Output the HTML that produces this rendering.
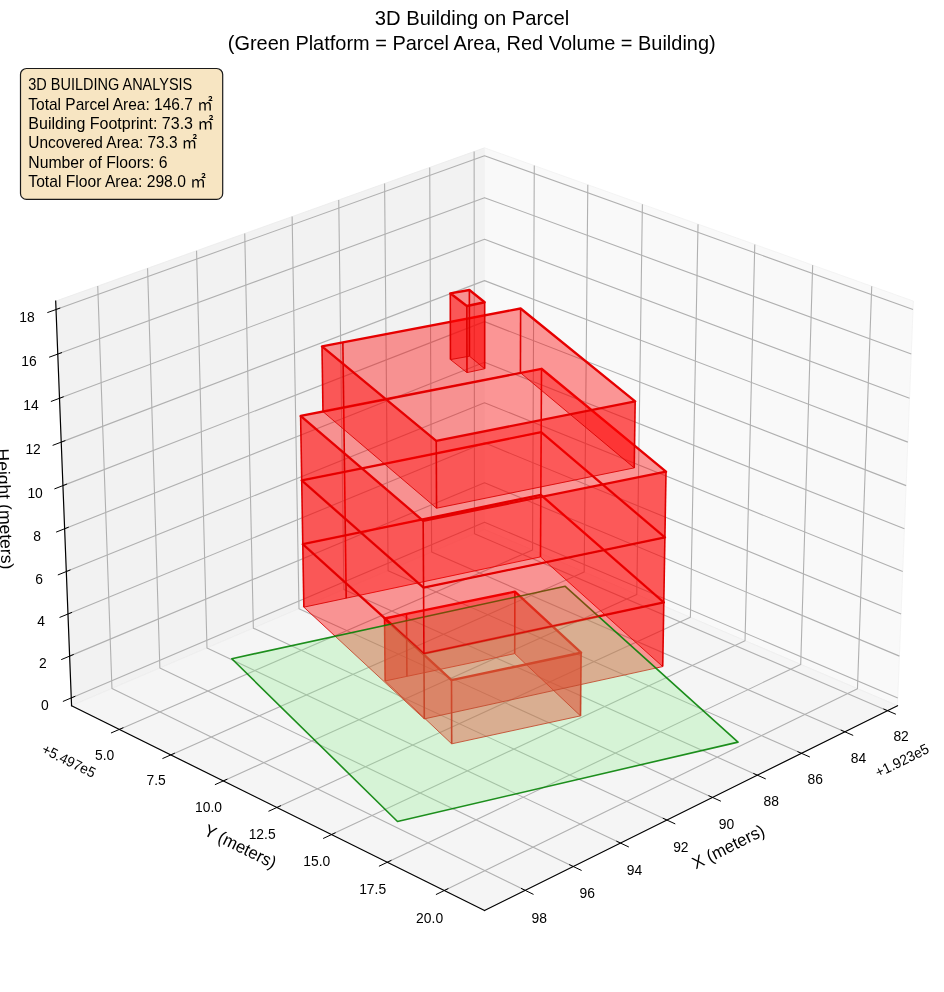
<!DOCTYPE html>
<html lang="en"><head><meta charset="utf-8"><title>3D Building on Parcel</title>
<style>
html,body{margin:0;padding:0;background:#fff;}
body{width:944px;height:992px;overflow:hidden;}
svg{display:block;}
text{white-space:pre;}
</style></head>
<body>
<svg width="944" height="992" viewBox="0 0 944 992">
<rect width="944" height="992" fill="#ffffff"/>
<g id="panes">
<polygon points="71.57,705.72 484.53,529.52 484.53,147.83 55.69,301.11" fill="#f2f2f2" stroke="#ebebeb" stroke-width="0.8"/>
<polygon points="484.53,529.52 897.48,705.72 913.37,301.11 484.53,147.83" fill="#f9f9f9" stroke="#f1f1f1" stroke-width="0.8"/>
<polygon points="484.53,529.52 71.57,705.72 484.53,910.43 897.48,705.72" fill="#f5f5f5" stroke="#eeeeee" stroke-width="0.8"/>
</g>
<g id="grid" stroke-linejoin="round">
<polyline points="887.50,710.67 474.49,533.81 474.13,151.54" fill="none" stroke="#b0b0b0" stroke-width="1.1"/>
<polyline points="844.84,731.81 431.63,552.09 429.72,167.42" fill="none" stroke="#b0b0b0" stroke-width="1.1"/>
<polyline points="801.48,753.31 388.10,570.66 384.60,183.54" fill="none" stroke="#b0b0b0" stroke-width="1.1"/>
<polyline points="757.37,775.17 343.89,589.53 338.74,199.94" fill="none" stroke="#b0b0b0" stroke-width="1.1"/>
<polyline points="712.51,797.41 298.98,608.69 292.13,216.60" fill="none" stroke="#b0b0b0" stroke-width="1.1"/>
<polyline points="666.88,820.03 253.35,628.16 244.74,233.54" fill="none" stroke="#b0b0b0" stroke-width="1.1"/>
<polyline points="620.45,843.05 206.98,647.94 196.56,250.76" fill="none" stroke="#b0b0b0" stroke-width="1.1"/>
<polyline points="573.20,866.47 159.86,668.05 147.56,268.27" fill="none" stroke="#b0b0b0" stroke-width="1.1"/>
<polyline points="525.12,890.31 111.96,688.48 97.73,286.09" fill="none" stroke="#b0b0b0" stroke-width="1.1"/>
<polyline points="119.35,729.40 532.55,550.01 534.28,165.61" fill="none" stroke="#b0b0b0" stroke-width="1.1"/>
<polyline points="170.81,754.91 584.19,572.04 587.81,184.74" fill="none" stroke="#b0b0b0" stroke-width="1.1"/>
<polyline points="223.30,780.93 636.80,594.49 642.39,204.25" fill="none" stroke="#b0b0b0" stroke-width="1.1"/>
<polyline points="276.86,807.48 690.40,617.36 698.03,224.14" fill="none" stroke="#b0b0b0" stroke-width="1.1"/>
<polyline points="331.53,834.58 745.03,640.67 754.78,244.43" fill="none" stroke="#b0b0b0" stroke-width="1.1"/>
<polyline points="387.33,862.25 800.71,664.43 812.66,265.12" fill="none" stroke="#b0b0b0" stroke-width="1.1"/>
<polyline points="444.31,890.49 857.47,688.64 871.72,286.23" fill="none" stroke="#b0b0b0" stroke-width="1.1"/>
<polyline points="71.27,697.92 484.53,522.15 897.79,697.92" fill="none" stroke="#b0b0b0" stroke-width="1.1"/>
<polyline points="69.63,656.13 484.53,482.64 899.43,656.13" fill="none" stroke="#b0b0b0" stroke-width="1.1"/>
<polyline points="67.97,614.01 484.53,442.83 901.08,614.01" fill="none" stroke="#b0b0b0" stroke-width="1.1"/>
<polyline points="66.31,571.56 484.53,402.73 902.75,571.56" fill="none" stroke="#b0b0b0" stroke-width="1.1"/>
<polyline points="64.63,528.76 484.53,362.33 904.43,528.76" fill="none" stroke="#b0b0b0" stroke-width="1.1"/>
<polyline points="62.93,485.62 484.53,321.63 906.12,485.62" fill="none" stroke="#b0b0b0" stroke-width="1.1"/>
<polyline points="61.22,442.12 484.53,280.62 907.83,442.12" fill="none" stroke="#b0b0b0" stroke-width="1.1"/>
<polyline points="59.50,398.28 484.53,239.31 909.55,398.28" fill="none" stroke="#b0b0b0" stroke-width="1.1"/>
<polyline points="57.77,354.08 484.53,197.67 911.29,354.08" fill="none" stroke="#b0b0b0" stroke-width="1.1"/>
<polyline points="56.02,309.51 484.53,155.73 913.04,309.51" fill="none" stroke="#b0b0b0" stroke-width="1.1"/>
</g>
<g id="axes">
<polyline points="897.48,705.72 484.53,910.43" fill="none" stroke="#000" stroke-width="1.2" stroke-linecap="square"/>
<polyline points="71.57,705.72 484.53,910.43" fill="none" stroke="#000" stroke-width="1.2" stroke-linecap="square"/>
<polyline points="71.57,705.72 55.69,301.11" fill="none" stroke="#000" stroke-width="1.2" stroke-linecap="square"/>
<polyline points="895.86,714.25 883.41,708.92" fill="none" stroke="#000" stroke-width="1.0"/>
<polyline points="853.21,735.45 840.76,730.03" fill="none" stroke="#000" stroke-width="1.0"/>
<polyline points="809.85,757.01 797.39,751.50" fill="none" stroke="#000" stroke-width="1.0"/>
<polyline points="765.75,778.94 753.28,773.34" fill="none" stroke="#000" stroke-width="1.0"/>
<polyline points="720.90,801.24 708.41,795.54" fill="none" stroke="#000" stroke-width="1.0"/>
<polyline points="675.27,823.93 662.78,818.13" fill="none" stroke="#000" stroke-width="1.0"/>
<polyline points="628.85,847.01 616.35,841.11" fill="none" stroke="#000" stroke-width="1.0"/>
<polyline points="581.61,870.50 569.10,864.50" fill="none" stroke="#000" stroke-width="1.0"/>
<polyline points="533.53,894.41 521.02,888.30" fill="none" stroke="#000" stroke-width="1.0"/>
<polyline points="110.98,733.03 123.44,727.63" fill="none" stroke="#000" stroke-width="1.0"/>
<polyline points="162.43,758.61 174.90,753.10" fill="none" stroke="#000" stroke-width="1.0"/>
<polyline points="214.91,784.71 227.39,779.09" fill="none" stroke="#000" stroke-width="1.0"/>
<polyline points="268.47,811.34 280.96,805.60" fill="none" stroke="#000" stroke-width="1.0"/>
<polyline points="323.13,838.52 335.63,832.66" fill="none" stroke="#000" stroke-width="1.0"/>
<polyline points="378.93,866.27 391.44,860.29" fill="none" stroke="#000" stroke-width="1.0"/>
<polyline points="435.91,894.60 448.42,888.49" fill="none" stroke="#000" stroke-width="1.0"/>
<polyline points="62.90,701.47 75.35,696.18" fill="none" stroke="#000" stroke-width="1.0"/>
<polyline points="61.23,659.64 73.73,654.42" fill="none" stroke="#000" stroke-width="1.0"/>
<polyline points="59.54,617.48 72.09,612.32" fill="none" stroke="#000" stroke-width="1.0"/>
<polyline points="57.83,574.98 70.44,569.89" fill="none" stroke="#000" stroke-width="1.0"/>
<polyline points="56.12,532.13 68.78,527.11" fill="none" stroke="#000" stroke-width="1.0"/>
<polyline points="54.39,488.94 67.10,483.99" fill="none" stroke="#000" stroke-width="1.0"/>
<polyline points="52.64,445.40 65.42,440.53" fill="none" stroke="#000" stroke-width="1.0"/>
<polyline points="50.88,401.50 63.71,396.71" fill="none" stroke="#000" stroke-width="1.0"/>
<polyline points="49.11,357.25 62.00,352.53" fill="none" stroke="#000" stroke-width="1.0"/>
<polyline points="47.32,312.63 60.26,307.99" fill="none" stroke="#000" stroke-width="1.0"/>
</g>
<g id="ticklabels" font-family="'Liberation Sans', 'Noto Sans CJK SC', sans-serif" fill="#000" font-size="14.45" text-anchor="middle">
<text x="901.10" y="741.17" textLength="15.42" lengthAdjust="spacingAndGlyphs">82</text>
<text x="858.52" y="762.52" textLength="15.42" lengthAdjust="spacingAndGlyphs">84</text>
<text x="815.23" y="784.23" textLength="15.42" lengthAdjust="spacingAndGlyphs">86</text>
<text x="771.20" y="806.31" textLength="15.42" lengthAdjust="spacingAndGlyphs">88</text>
<text x="726.41" y="828.76" textLength="15.42" lengthAdjust="spacingAndGlyphs">90</text>
<text x="680.85" y="851.60" textLength="15.42" lengthAdjust="spacingAndGlyphs">92</text>
<text x="634.50" y="874.83" textLength="15.42" lengthAdjust="spacingAndGlyphs">94</text>
<text x="587.33" y="898.46" textLength="15.42" lengthAdjust="spacingAndGlyphs">96</text>
<text x="539.32" y="922.51" textLength="15.42" lengthAdjust="spacingAndGlyphs">98</text>
<text x="104.65" y="759.50" textLength="19.28" lengthAdjust="spacingAndGlyphs">5.0</text>
<text x="156.11" y="785.38" textLength="19.28" lengthAdjust="spacingAndGlyphs">7.5</text>
<text x="208.60" y="811.76" textLength="26.99" lengthAdjust="spacingAndGlyphs">10.0</text>
<text x="262.16" y="838.68" textLength="26.99" lengthAdjust="spacingAndGlyphs">12.5</text>
<text x="316.83" y="866.15" textLength="26.99" lengthAdjust="spacingAndGlyphs">15.0</text>
<text x="372.63" y="894.18" textLength="26.99" lengthAdjust="spacingAndGlyphs">17.5</text>
<text x="429.61" y="922.79" textLength="26.99" lengthAdjust="spacingAndGlyphs">20.0</text>
<text x="44.87" y="709.72" textLength="7.71" lengthAdjust="spacingAndGlyphs">0</text>
<text x="42.94" y="667.99" textLength="7.71" lengthAdjust="spacingAndGlyphs">2</text>
<text x="40.99" y="625.92" textLength="7.71" lengthAdjust="spacingAndGlyphs">4</text>
<text x="39.04" y="583.52" textLength="7.71" lengthAdjust="spacingAndGlyphs">6</text>
<text x="37.07" y="540.78" textLength="7.71" lengthAdjust="spacingAndGlyphs">8</text>
<text x="35.09" y="497.69" textLength="15.42" lengthAdjust="spacingAndGlyphs">10</text>
<text x="33.09" y="454.26" textLength="15.42" lengthAdjust="spacingAndGlyphs">12</text>
<text x="31.08" y="410.47" textLength="15.42" lengthAdjust="spacingAndGlyphs">14</text>
<text x="29.06" y="366.32" textLength="15.42" lengthAdjust="spacingAndGlyphs">16</text>
<text x="27.02" y="321.81" textLength="15.42" lengthAdjust="spacingAndGlyphs">18</text>
<text transform="translate(902.00,760.40) rotate(-26.3)" y="5.1" textLength="57.81" lengthAdjust="spacingAndGlyphs">+1.923e5</text>
<text transform="translate(68.90,760.70) rotate(26.3)" y="5.1" textLength="57.81" lengthAdjust="spacingAndGlyphs">+5.497e5</text>
</g>
<g id="axlabels" font-family="'Liberation Sans', 'Noto Sans CJK SC', sans-serif" fill="#000" font-size="17.3" text-anchor="middle">
<text transform="translate(728.90,848.10) rotate(-26.3)" y="4.4" textLength="78.52" lengthAdjust="spacingAndGlyphs">X (meters)</text>
<text transform="translate(239.70,847.70) rotate(26.3)" y="4.4" textLength="77.82" lengthAdjust="spacingAndGlyphs">Y (meters)</text>
<text transform="translate(3.50,509.00) rotate(87.75)" y="4.4" textLength="120.72" lengthAdjust="spacingAndGlyphs">Height (meters)</text>
</g>
<g id="building">
<g id="floor1">
<polygon points="385.14,680.96 406.93,676.36 406.48,613.97 384.55,618.48" fill="#ff0000" fill-opacity="0.4" stroke="none"/>
<polygon points="406.93,676.36 514.71,653.64 514.88,591.68 406.48,613.97" fill="#ff0000" fill-opacity="0.4" stroke="none"/>
<polygon points="514.71,653.64 580.51,715.88 581.08,652.73 514.88,591.68" fill="#ff0000" fill-opacity="0.4" stroke="none"/>
<polygon points="580.51,715.88 451.70,743.84 451.50,680.17 581.08,652.73" fill="#ff0000" fill-opacity="0.4" stroke="none"/>
<polygon points="451.70,743.84 385.14,680.96 384.55,618.48 451.50,680.17" fill="#ff0000" fill-opacity="0.4" stroke="none"/>
<polygon points="385.14,680.96 406.93,676.36 514.71,653.64 580.51,715.88 451.70,743.84" fill="none" stroke="#d80000" stroke-opacity="0.85" stroke-width="1.0" stroke-linejoin="round"/>
<polyline points="385.14,680.96 384.55,618.48" fill="none" stroke="#de0000" stroke-width="1.6" stroke-opacity="1"/>
<polyline points="406.93,676.36 406.48,613.97" fill="none" stroke="#de0000" stroke-width="1.6" stroke-opacity="1"/>
<polyline points="514.71,653.64 514.88,591.68" fill="none" stroke="#de0000" stroke-width="1.6" stroke-opacity="1"/>
<polyline points="580.51,715.88 581.08,652.73" fill="none" stroke="#de0000" stroke-width="1.6" stroke-opacity="1"/>
<polyline points="451.70,743.84 451.50,680.17" fill="none" stroke="#de0000" stroke-width="1.6" stroke-opacity="1"/>
<polygon points="384.55,618.48 406.48,613.97 514.88,591.68 581.08,652.73 451.50,680.17" fill="none" stroke="#e60000" stroke-width="2.35" stroke-linejoin="round"/>
</g>
<g id="floor2">
<polygon points="303.86,607.17 346.19,598.18 345.37,535.37 302.79,544.17" fill="#ff0000" fill-opacity="0.4" stroke="none"/>
<polygon points="346.19,598.18 540.50,556.90 540.83,494.92 345.37,535.37" fill="#ff0000" fill-opacity="0.4" stroke="none"/>
<polygon points="540.50,556.90 662.72,666.60 663.80,602.42 540.83,494.92" fill="#ff0000" fill-opacity="0.4" stroke="none"/>
<polygon points="662.72,666.60 424.30,718.89 423.93,653.67 663.80,602.42" fill="#ff0000" fill-opacity="0.4" stroke="none"/>
<polygon points="424.30,718.89 303.86,607.17 302.79,544.17 423.93,653.67" fill="#ff0000" fill-opacity="0.4" stroke="none"/>
<polygon points="303.86,607.17 346.19,598.18 540.50,556.90 662.72,666.60 424.30,718.89" fill="none" stroke="#d80000" stroke-opacity="0.85" stroke-width="1.0" stroke-linejoin="round"/>
<polyline points="303.86,607.17 302.79,544.17" fill="none" stroke="#de0000" stroke-width="1.6" stroke-opacity="1"/>
<polyline points="346.19,598.18 345.37,535.37" fill="none" stroke="#de0000" stroke-width="1.6" stroke-opacity="1"/>
<polyline points="540.50,556.90 540.83,494.92" fill="none" stroke="#de0000" stroke-width="1.6" stroke-opacity="1"/>
<polyline points="662.72,666.60 663.80,602.42" fill="none" stroke="#de0000" stroke-width="1.6" stroke-opacity="1"/>
<polyline points="424.30,718.89 423.93,653.67" fill="none" stroke="#de0000" stroke-width="1.6" stroke-opacity="1"/>
<polygon points="302.79,544.17 345.37,535.37 540.83,494.92 663.80,602.42 423.93,653.67" fill="none" stroke="#e60000" stroke-width="2.35" stroke-linejoin="round"/>
</g>
<polygon points="231.79,658.70 565.21,586.30 738.02,742.10 397.50,821.50" fill="#90ee90" fill-opacity="0.3" stroke="#008000" stroke-opacity="0.88" stroke-width="1.6" stroke-linejoin="round"/>
<g id="floor3">
<polygon points="302.79,544.17 345.37,535.37 344.54,471.81 301.71,480.43" fill="#ff0000" fill-opacity="0.4" stroke="none"/>
<polygon points="345.37,535.37 540.83,494.92 541.16,432.22 344.54,471.81" fill="#ff0000" fill-opacity="0.4" stroke="none"/>
<polygon points="540.83,494.92 663.80,602.42 664.90,537.45 541.16,432.22" fill="#ff0000" fill-opacity="0.4" stroke="none"/>
<polygon points="663.80,602.42 423.93,653.67 423.55,587.64 664.90,537.45" fill="#ff0000" fill-opacity="0.4" stroke="none"/>
<polygon points="423.93,653.67 302.79,544.17 301.71,480.43 423.55,587.64" fill="#ff0000" fill-opacity="0.4" stroke="none"/>
<polygon points="302.79,544.17 345.37,535.37 540.83,494.92 663.80,602.42 423.93,653.67" fill="none" stroke="#d80000" stroke-opacity="0.85" stroke-width="1.0" stroke-linejoin="round"/>
<polyline points="302.79,544.17 301.71,480.43" fill="none" stroke="#de0000" stroke-width="1.6" stroke-opacity="1"/>
<polyline points="345.37,535.37 344.54,471.81" fill="none" stroke="#de0000" stroke-width="1.6" stroke-opacity="1"/>
<polyline points="540.83,494.92 541.16,432.22" fill="none" stroke="#de0000" stroke-width="1.6" stroke-opacity="1"/>
<polyline points="663.80,602.42 664.90,537.45" fill="none" stroke="#de0000" stroke-width="1.6" stroke-opacity="1"/>
<polyline points="423.93,653.67 423.55,587.64" fill="none" stroke="#de0000" stroke-width="1.6" stroke-opacity="1"/>
<polygon points="301.71,480.43 344.54,471.81 541.16,432.22 664.90,537.45 423.55,587.64" fill="none" stroke="#e60000" stroke-width="2.35" stroke-linejoin="round"/>
</g>
<g id="floor4">
<polygon points="301.71,480.43 344.54,471.81 343.71,407.48 300.61,415.91" fill="#ff0000" fill-opacity="0.4" stroke="none"/>
<polygon points="344.54,471.81 541.16,432.22 541.49,368.78 343.71,407.48" fill="#ff0000" fill-opacity="0.4" stroke="none"/>
<polygon points="541.16,432.22 664.90,537.45 666.01,471.68 541.49,368.78" fill="#ff0000" fill-opacity="0.4" stroke="none"/>
<polygon points="664.90,537.45 423.55,587.64 423.16,520.78 666.01,471.68" fill="#ff0000" fill-opacity="0.4" stroke="none"/>
<polygon points="423.55,587.64 301.71,480.43 300.61,415.91 423.16,520.78" fill="#ff0000" fill-opacity="0.4" stroke="none"/>
<polygon points="301.71,480.43 344.54,471.81 541.16,432.22 664.90,537.45 423.55,587.64" fill="none" stroke="#d80000" stroke-opacity="0.85" stroke-width="1.0" stroke-linejoin="round"/>
<polyline points="301.71,480.43 300.61,415.91" fill="none" stroke="#de0000" stroke-width="1.6" stroke-opacity="1"/>
<polyline points="344.54,471.81 343.71,407.48" fill="none" stroke="#de0000" stroke-width="1.6" stroke-opacity="1"/>
<polyline points="541.16,432.22 541.49,368.78" fill="none" stroke="#de0000" stroke-width="1.6" stroke-opacity="1"/>
<polyline points="664.90,537.45 666.01,471.68" fill="none" stroke="#de0000" stroke-width="1.6" stroke-opacity="1"/>
<polyline points="423.55,587.64 423.16,520.78" fill="none" stroke="#de0000" stroke-width="1.6" stroke-opacity="1"/>
<polygon points="300.61,415.91 343.71,407.48 541.49,368.78 666.01,471.68 423.16,520.78" fill="none" stroke="#e60000" stroke-width="2.35" stroke-linejoin="round"/>
</g>
<g id="floor5">
<polygon points="322.97,411.61 343.71,407.48 342.86,342.39 322.00,346.41" fill="#ff0000" fill-opacity="0.4" stroke="none"/>
<polygon points="343.71,407.48 520.42,372.78 520.63,308.49 342.86,342.39" fill="#ff0000" fill-opacity="0.4" stroke="none"/>
<polygon points="520.42,372.78 634.23,467.89 635.16,401.40 520.63,308.49" fill="#ff0000" fill-opacity="0.4" stroke="none"/>
<polygon points="634.23,467.89 436.55,508.21 436.24,440.79 635.16,401.40" fill="#ff0000" fill-opacity="0.4" stroke="none"/>
<polygon points="436.55,508.21 322.97,411.61 322.00,346.41 436.24,440.79" fill="#ff0000" fill-opacity="0.4" stroke="none"/>
<polygon points="322.97,411.61 343.71,407.48 520.42,372.78 634.23,467.89 436.55,508.21" fill="none" stroke="#d80000" stroke-opacity="0.85" stroke-width="1.0" stroke-linejoin="round"/>
<polyline points="322.97,411.61 322.00,346.41" fill="none" stroke="#de0000" stroke-width="1.6" stroke-opacity="1"/>
<polyline points="343.71,407.48 342.86,342.39" fill="none" stroke="#de0000" stroke-width="1.6" stroke-opacity="1"/>
<polyline points="520.42,372.78 520.63,308.49" fill="none" stroke="#de0000" stroke-width="1.6" stroke-opacity="1"/>
<polyline points="634.23,467.89 635.16,401.40" fill="none" stroke="#de0000" stroke-width="1.6" stroke-opacity="1"/>
<polyline points="436.55,508.21 436.24,440.79" fill="none" stroke="#de0000" stroke-width="1.6" stroke-opacity="1"/>
<polygon points="322.00,346.41 342.86,342.39 520.63,308.49 635.16,401.40 436.24,440.79" fill="none" stroke="#e60000" stroke-width="2.35" stroke-linejoin="round"/>
</g>
<g id="floor6">
<polygon points="450.46,359.60 469.46,356.21 469.37,289.99 450.25,293.29" fill="#ff0000" fill-opacity="0.4" stroke="none"/>
<polygon points="469.46,356.21 484.69,368.76 484.69,302.23 469.37,289.99" fill="#ff0000" fill-opacity="0.4" stroke="none"/>
<polygon points="484.69,368.76 466.97,372.62 466.86,306.00 484.69,302.23" fill="#ff0000" fill-opacity="0.4" stroke="none"/>
<polygon points="466.97,372.62 450.46,359.60 450.25,293.29 466.86,306.00" fill="#ff0000" fill-opacity="0.4" stroke="none"/>
<polygon points="450.46,359.60 469.46,356.21 484.69,368.76 466.97,372.62" fill="none" stroke="#d80000" stroke-opacity="0.85" stroke-width="1.0" stroke-linejoin="round"/>
<polyline points="450.46,359.60 450.25,293.29" fill="none" stroke="#de0000" stroke-width="1.6" stroke-opacity="1"/>
<polyline points="469.46,356.21 469.37,289.99" fill="none" stroke="#de0000" stroke-width="1.6" stroke-opacity="1"/>
<polyline points="484.69,368.76 484.69,302.23" fill="none" stroke="#de0000" stroke-width="1.6" stroke-opacity="1"/>
<polyline points="466.97,372.62 466.86,306.00" fill="none" stroke="#de0000" stroke-width="1.6" stroke-opacity="1"/>
<polygon points="450.25,293.29 469.37,289.99 484.69,302.23 466.86,306.00" fill="none" stroke="#e60000" stroke-width="2.35" stroke-linejoin="round"/>
</g>
</g>
<g id="title" font-family="'Liberation Sans', 'Noto Sans CJK SC', sans-serif" fill="#000" font-size="20.2" text-anchor="middle">
<text x="472" y="25.3" textLength="194.3" lengthAdjust="spacingAndGlyphs">3D Building on Parcel</text>
<text x="471.7" y="49.6" textLength="487.9" lengthAdjust="spacingAndGlyphs">(Green Platform = Parcel Area, Red Volume = Building)</text>
</g>
<rect x="20.5" y="68.5" width="202.2" height="130.9" rx="6" ry="6" fill="#f7e5c2" stroke="#1a1a1a" stroke-width="1.2"/>
<g id="info" font-family="'Liberation Sans', 'Noto Sans CJK SC', sans-serif" fill="#000" font-size="15.9">
<text x="28.3" y="89.7" textLength="164.0" lengthAdjust="spacingAndGlyphs">3D BUILDING ANALYSIS</text>
<text x="28.3" y="109.5" textLength="184.4" lengthAdjust="spacingAndGlyphs">Total Parcel Area: 146.7 ㎡</text>
<text x="28.3" y="128.7" textLength="185.2" lengthAdjust="spacingAndGlyphs">Building Footprint: 73.3 ㎡</text>
<text x="28.3" y="148.2" textLength="169.0" lengthAdjust="spacingAndGlyphs">Uncovered Area: 73.3 ㎡</text>
<text x="28.3" y="167.7" textLength="139.2" lengthAdjust="spacingAndGlyphs">Number of Floors: 6</text>
<text x="28.3" y="187.2" textLength="177.6" lengthAdjust="spacingAndGlyphs">Total Floor Area: 298.0 ㎡</text>
</g>
</svg>
</body></html>
